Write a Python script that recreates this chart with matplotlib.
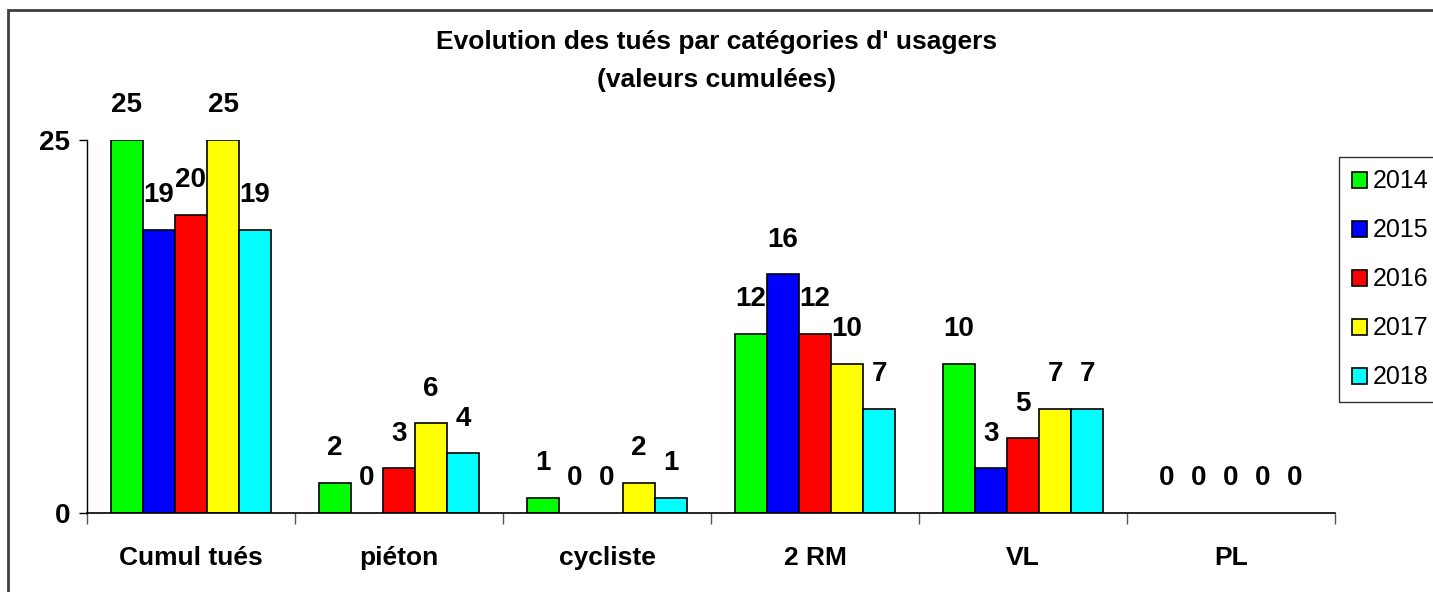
import matplotlib.pyplot as plt
import numpy as np
from matplotlib.patches import Rectangle

plt.rcParams['font.family'] = ['Liberation Sans', 'DejaVu Sans']

categories = ['Cumul tués', 'piéton', 'cycliste', '2 RM', 'VL', 'PL']
years = ['2014', '2015', '2016', '2017', '2018']
v2014 = [25, 2, 1, 12, 10, 0]
v2015 = [19, 0, 0, 16, 3, 0]
v2016 = [20, 3, 0, 12, 5, 0]
v2017 = [25, 6, 2, 10, 7, 0]
v2018 = [19, 4, 1, 7, 7, 0]
series = [v2014, v2015, v2016, v2017, v2018]
colors = ['#00ff00', '#0000ff', '#ff0000', '#ffff00', '#00ffff']

fig = plt.figure(figsize=(14.33, 5.92), dpi=100)
fig.patches.append(Rectangle((8/1433, -0.1), 1.2, 1 - 10/592 + 0.1, transform=fig.transFigure,
                             fill=False, edgecolor='#404040', linewidth=2))
ax = fig.add_axes([87/1433, 1 - 513/592, 1248/1433, 373/592])

x = np.arange(len(categories))
width = 0.154
for i, (vals, c) in enumerate(zip(series, colors)):
    pos = x + (i - 2) * width
    lw = [1.2 if v > 0 else 0 for v in vals]
    ax.bar(pos, vals, width, color=c, edgecolor='black', linewidth=lw, label=years[i])
    for px, v in zip(pos, vals):
        ax.annotate(str(v), (px, v), xytext=(0, 25), textcoords='offset points',
                    ha='center', va='center', fontsize=20, fontweight='bold', annotation_clip=False)

ax.set_xlim(-0.5, 5.5)
ax.set_ylim(0, 25)
ax.set_yticks([0, 25])
ax.set_yticklabels(['0', '25'], fontsize=20, fontweight='bold')
ax.tick_params(axis='y', length=6, width=1, pad=6)
ax.set_xticks(x)
ax.set_xticklabels(categories, fontsize=19, fontweight='bold')
ax.tick_params(axis='x', which='major', length=0, pad=24)
ax.set_xticks(np.arange(-0.5, 6, 1), minor=True)
ax.tick_params(axis='x', which='minor', length=8, width=1, color='#555555')
for s in ['top', 'right']:
    ax.spines[s].set_visible(False)
ax.spines['left'].set_linewidth(1)
ax.spines['bottom'].set_linewidth(1.2)

fig.text(0.5, 1 - 42/592, "Evolution des tués par catégories d' usagers", ha='center', va='center',
         fontsize=19, fontweight='bold')
fig.text(0.5, 1 - 80/592, "(valeurs cumulées)", ha='center', va='center',
         fontsize=19, fontweight='bold')

handles, labels = ax.get_legend_handles_labels()
leg = fig.legend(handles, labels, loc='upper left', bbox_to_anchor=(1339/1433, 1 - 157/592), fontsize=18,
                 handlelength=0.6, handleheight=0.6, handletextpad=0.25, labelspacing=1.0,
                 fancybox=False, frameon=True, borderpad=0.5, borderaxespad=0)
leg.get_frame().set_edgecolor('black')
leg.get_frame().set_linewidth(1)
for h in leg.legend_handles:
    h.set_linewidth(1.2)

fig.savefig('out.png', dpi=100)
